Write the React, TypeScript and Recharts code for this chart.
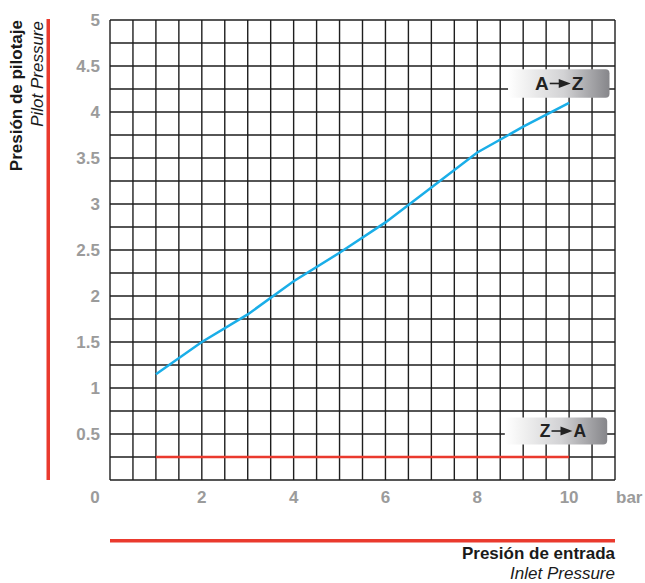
import { LineChart, Line, XAxis, YAxis, CartesianGrid, ReferenceArea } from "recharts";

// inlet pressure (bar) and the pilot pressure needed for each switch direction
const inletPressure = [1, 2, 3, 4, 5, 6, 7, 8, 9, 10];
const pilotAtoZ = [1.15, 1.5, 1.8, 2.16, 2.47, 2.8, 3.18, 3.56, 3.84, 4.1];
const pilotZtoA = [0.25, 0.25, 0.25, 0.25, 0.25, 0.25, 0.25, 0.25, 0.25, 0.25];

// grid ticks (every 0.5 on x, every 0.25 on y) and which ones get a label
const xTicks = [0, 0.5, 1, 1.5, 2, 2.5, 3, 3.5, 4, 4.5, 5, 5.5, 6, 6.5, 7, 7.5, 8, 8.5, 9, 9.5, 10, 10.5, 11];
const yTicks = [0, 0.25, 0.5, 0.75, 1, 1.25, 1.5, 1.75, 2, 2.25, 2.5, 2.75, 3, 3.25, 3.5, 3.75, 4, 4.25, 4.5, 4.75, 5];
const xLabels = [0, 2, 4, 6, 8, 10];
const yLabels = [0.5, 1, 1.5, 2, 2.5, 3, 3.5, 4, 4.5, 5];

const data = inletPressure.map((x, i) => ({ x, az: pilotAtoZ[i], za: pilotZtoA[i] }));

const FONT = "'Liberation Sans', Arial, Helvetica, sans-serif";
const TICK_GREY = "#9b9b9b";
const RED = "#ea3a2e";

const XTick = ({ x, y, payload }: any) => {
  if (!xLabels.includes(payload.value)) return <g />;
  const dx = payload.value === 0 ? -15 : 0;
  return (
    <text x={x + dx} y={y + 23} textAnchor="middle" fill={TICK_GREY} fontSize={17} fontWeight="bold" fontFamily={FONT}>
      {payload.value}
    </text>
  );
};

const YTick = ({ x, y, payload }: any) => {
  if (!yLabels.includes(payload.value)) return <g />;
  return (
    <text x={x - 10} y={y} dy="0.36em" textAnchor="end" fill={TICK_GREY} fontSize={17} fontWeight="bold" fontFamily={FONT}>
      {payload.value}
    </text>
  );
};

// grey gradient tag with "A ─► B"
const tagShape = (from: string, to: string, size: number, textX: number, id: string) => (props: any) => {
  const { x, y, width, height } = props;
  const cy = y + height / 2;
  const base = cy + size * 0.36;
  const fromW = from === "A" ? size * 0.722 : size * 0.611;
  const lx = x + textX + fromW + 1;
  return (
    <g>
      <defs>
        <linearGradient id={id} x1="0" y1="0" x2="1" y2="0">
          <stop offset="0" stopColor="#ffffff" />
          <stop offset="0.15" stopColor="#f3f3f3" />
          <stop offset="0.55" stopColor="#d2d2d4" />
          <stop offset="1" stopColor="#86868a" />
        </linearGradient>
      </defs>
      <rect x={x} y={y} width={width} height={height} rx={4} fill={`url(#${id})`} />
      <text x={x + textX} y={base} fill="#222" fontSize={size} fontWeight="bold" fontFamily={FONT}>
        {from}
      </text>
      <line x1={lx} y1={cy} x2={lx + 10} y2={cy} stroke="#222" strokeWidth={1.6} />
      <polygon points={`${lx + 9},${cy - 4.5} ${lx + 21},${cy} ${lx + 9},${cy + 4.5}`} fill="#222" />
      <text x={lx + 22} y={base} fill="#222" fontSize={size} fontWeight="bold" fontFamily={FONT}>
        {to}
      </text>
    </g>
  );
};

export default function App() {
  return (
    <div style={{ position: "absolute", left: 0, top: 0, width: 645, height: 583, background: "#fff" }}>
      <LineChart width={645} height={583} data={data} margin={{ top: 20, right: 30, left: 0, bottom: 0 }}>
        <CartesianGrid stroke="#1e1e1e" strokeWidth={1.4} />
        <XAxis
          type="number"
          dataKey="x"
          domain={[0, 11]}
          ticks={xTicks}
          interval={0}
          height={103}
          axisLine={false}
          tickLine={false}
          tickSize={0}
          tickMargin={0}
          tick={<XTick />}
        />
        <YAxis
          type="number"
          domain={[0, 5]}
          ticks={yTicks}
          interval={0}
          width={110}
          axisLine={false}
          tickLine={false}
          tickSize={0}
          tickMargin={0}
          tick={<YTick />}
        />
        <Line type="linear" dataKey="za" stroke={RED} strokeWidth={2.5} dot={false} isAnimationActive={false} />
        <Line type="linear" dataKey="az" stroke="#1aaee8" strokeWidth={2.5} dot={false} isAnimationActive={false} />
        <ReferenceArea x1={8.67} x2={10.88} y1={4.155} y2={4.465} stroke="none" shape={tagShape("A", "Z", 19, 27, "gAZ")} />
        <ReferenceArea x1={8.6} x2={10.83} y1={0.385} y2={0.68} stroke="none" shape={tagShape("Z", "A", 17.5, 35, "gZA")} />
      </LineChart>
      <svg width={645} height={583} style={{ position: "absolute", left: 0, top: 0, pointerEvents: "none" }}>
        <rect x={46.5} y={19} width={3.5} height={461} fill={RED} />
        <rect x={110} y={539} width={505} height={3.5} fill={RED} />
        <text transform="translate(21.5,20) rotate(-90)" textAnchor="end" fontSize={17} fontWeight="bold" fontFamily={FONT} fill="#1a1a1a">
          Presión de pilotaje
        </text>
        <text transform="translate(43,21) rotate(-90)" textAnchor="end" fontSize={17} fontStyle="italic" fontFamily={FONT} fill="#1a1a1a">
          Pilot Pressure
        </text>
        <text x={616} y={503} fontSize={17} fontWeight="bold" fontFamily={FONT} fill={TICK_GREY}>
          bar
        </text>
        <text x={615} y={559} textAnchor="end" fontSize={17} fontWeight="bold" fontFamily={FONT} fill="#1a1a1a">
          Presión de entrada
        </text>
        <text x={615} y={579} textAnchor="end" fontSize={17} fontStyle="italic" fontFamily={FONT} fill="#1a1a1a">
          Inlet Pressure
        </text>
      </svg>
    </div>
  );
}
